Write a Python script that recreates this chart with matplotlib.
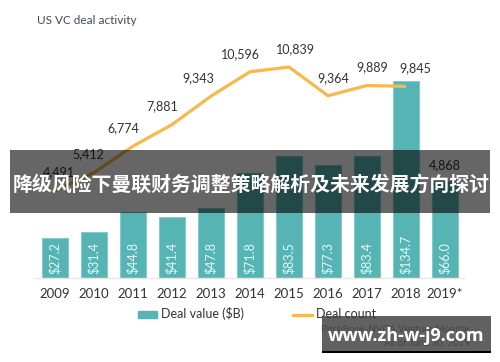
import matplotlib
matplotlib.use("Agg")
import matplotlib.pyplot as plt
from matplotlib.patches import Rectangle
from matplotlib.lines import Line2D
from matplotlib.patches import Patch

years = ["2009", "2010", "2011", "2012", "2013", "2014", "2015", "2016", "2017", "2018", "2019*"]
deal_value = [27.2, 31.4, 44.8, 41.4, 47.8, 71.8, 83.5, 77.3, 83.4, 134.7, 66.0]
deal_count = [4491, 5412, 6774, 7881, 9343, 10596, 10839, 9364, 9889, 9845, 4868]
value_labels = ["$27.2", "$31.4", "$44.8", "$41.4", "$47.8", "$71.8", "$83.5", "$77.3", "$83.4", "$134.7", "$66.0"]
count_labels = ["4,491", "5,412", "6,774", "7,881", "9,343", "10,596", "10,839", "9,364", "9,889", "9,845", "4,868"]
title = "US VC deal activity"
banner = "降级风险下曼联财务调整策略解析及未来发展方向探讨"
watermark = "www.zh-w-j9.com"
source = ["PitchBook-NVCA Venture Monitor", "*As of June 30, 2019"]

W, H = 500, 362
fig = plt.figure(figsize=(W / 100, H / 100), dpi=100)
fig.patch.set_facecolor("white")

def fx(px):
    return px / W

def fy(py):
    return (H - py) / H

# axes: x centers at 55 + 39*i px, baseline at 278 px, top at 40 px
left_px, right_px = 35.5, 464.5
top_px, base_px = 40, 278
ax = fig.add_axes([fx(left_px), fy(base_px), fx(right_px - left_px), (base_px - top_px) / H])
ax.set_xlim(-0.5, 10.5)
vscale = 197 / 134.7  # px per $B
ax.set_ylim(0, (base_px - top_px) / vscale)

teal = "#56b4b5"
gold = "#f6b94a"
x = list(range(len(years)))
ax.bar(x, deal_value, width=0.67, color=teal, edgecolor="#86cbcb", linewidth=0.8, zorder=2)
for xi, v, lab in zip(x, deal_value, value_labels):
    ax.annotate(lab, (xi, 0), xytext=(0, 3), textcoords="offset points",
                rotation=90, ha="center", va="bottom", color="#eaf6f6",
                fontsize=9, family="Lato", zorder=3)

ax.set_xticks(x)
ax.set_xticklabels(years, fontsize=9.5, color="#333333", family="Lato")
ax.tick_params(axis="x", length=0, pad=7)
ax.set_yticks([])
for s in ["top", "left", "right"]:
    ax.spines[s].set_visible(False)
ax.spines["bottom"].set_color("#e6e6e6")
ax.spines["bottom"].set_linewidth(1)

ax2 = ax.twinx()
cscale = 211 / 10839  # px per deal
ax2.set_ylim(0, (base_px - top_px) / cscale)
ax2.plot(x[:10], deal_count[:10], color=gold, linewidth=2.3, solid_capstyle="butt", zorder=4, clip_on=False)
nudges = [3, -4, -7, -7, -9, -7, 5, 4, 4, 7, 0]
for xi, c, lab, dx in zip(x, deal_count, count_labels, nudges):
    ax2.annotate(lab, (xi, c), xytext=(dx, 13), textcoords="offset points",
                 ha="center", va="center", color="#333333", fontsize=9, family="Lato")
ax2.set_yticks([])
for s in ["top", "left", "right", "bottom"]:
    ax2.spines[s].set_visible(False)

# title
fig.text(fx(37), fy(20), title, ha="left", va="center", fontsize=8.5, color="#3d4b5c", family="Lato")

# legend
handles = [Patch(facecolor=teal, edgecolor=teal), Line2D([0], [0], color=gold, linewidth=2.3)]
leg = fig.legend(handles, ["Deal value ($B)", "Deal count"], loc="center",
                 bbox_to_anchor=(fx(257), fy(314)), ncol=2, frameon=False,
                 prop={"family": "Lato", "size": 9}, handlelength=1.55, handleheight=0.5,
                 columnspacing=3.9, handletextpad=0.3)
for t in leg.get_texts():
    t.set_color("#333333")

# source text (partly hidden)
fig.text(fx(470), fy(330), source[0], ha="right", va="center", fontsize=7, color="#777777", family="Lato")
fig.text(fx(470), fy(343), source[1], ha="right", va="center", fontsize=7, color="#777777", family="Lato")

# banner overlay
fig.add_artist(Rectangle((fx(10), fy(213)), fx(480), (213 - 150) / H, transform=fig.transFigure,
                         facecolor="black", alpha=0.6, edgecolor="none", zorder=10))
fig.text(fx(251), fy(184), banner, ha="center", va="center", fontsize=14.3, color="white",
         fontweight="bold", family=["Noto Sans CJK SC", "DejaVu Sans"], zorder=11)

# watermark box
fig.add_artist(Rectangle((fx(322), fy(351)), fx(169), (351 - 316) / H, transform=fig.transFigure,
                         facecolor="#3a3a3a", alpha=0.8, edgecolor="none", zorder=10))
fig.add_artist(Rectangle((fx(322), fy(353)), fx(169), 2.5 / H, transform=fig.transFigure,
                         facecolor="black", edgecolor="none", zorder=10))
fig.text(fx(406), fy(336), watermark, ha="center", va="center", fontsize=13, color="white",
         fontweight="bold", family="Open Sans", zorder=11)

fig.savefig("out.png", dpi=100)
